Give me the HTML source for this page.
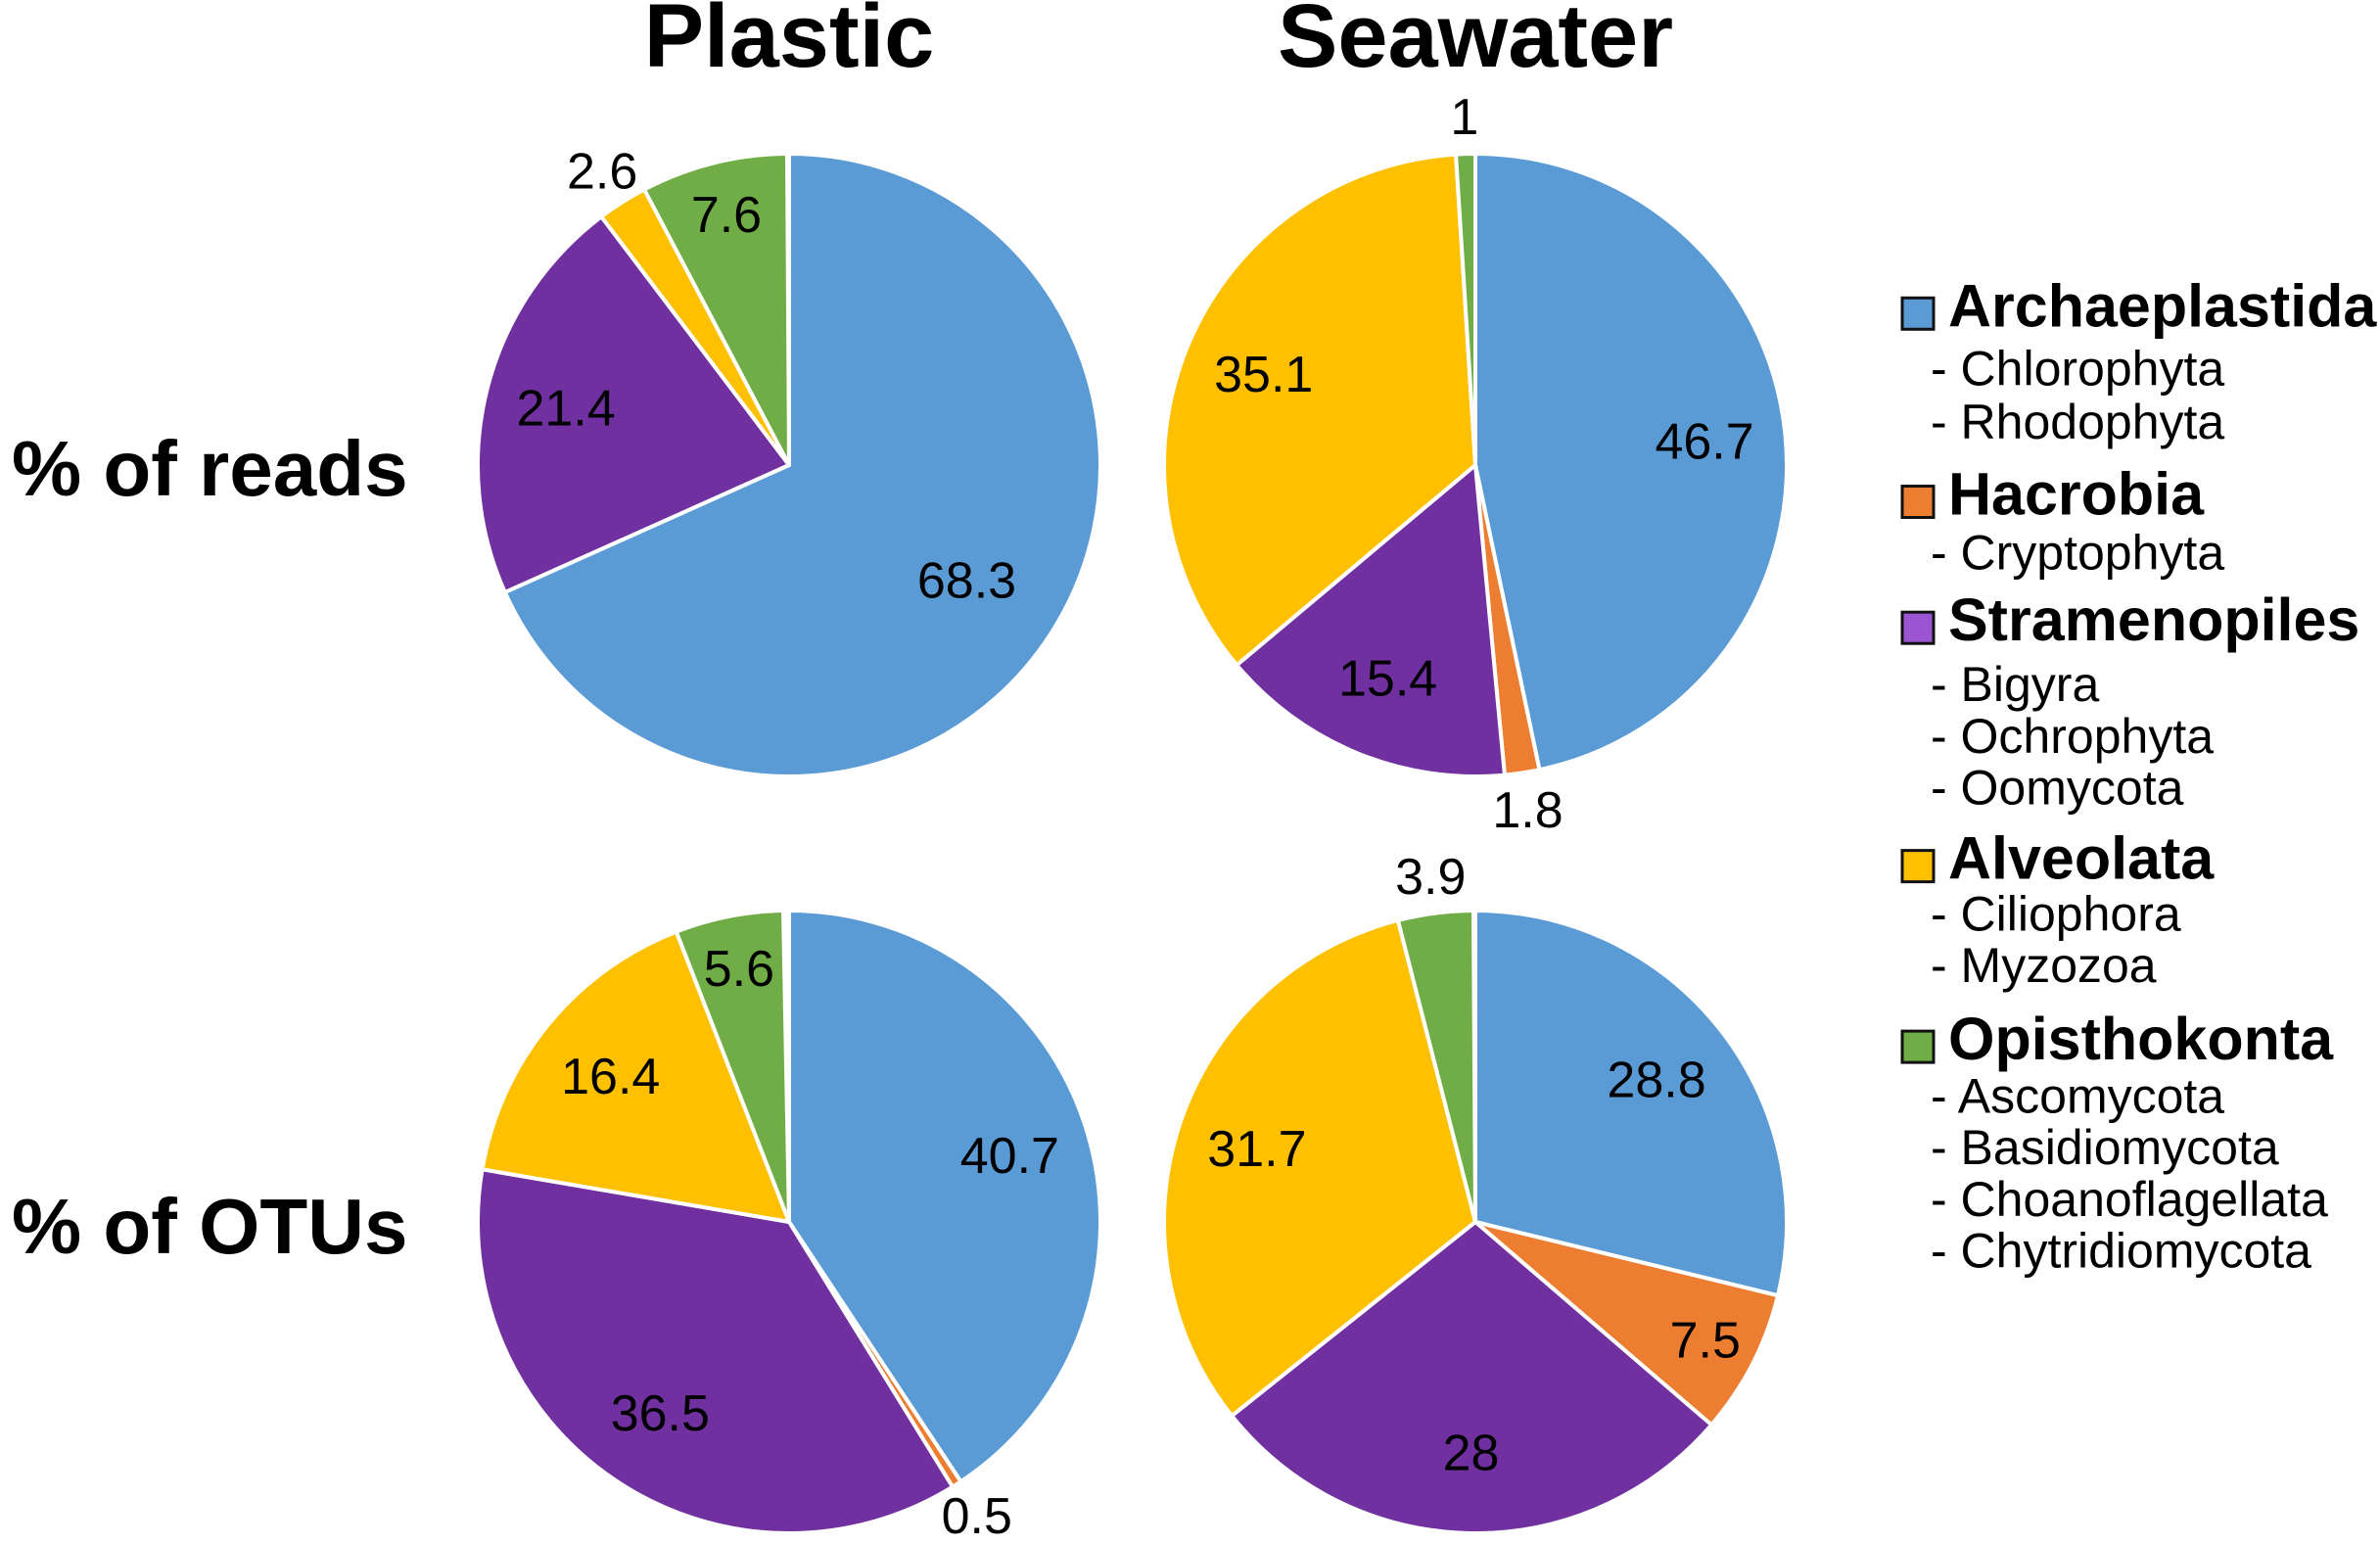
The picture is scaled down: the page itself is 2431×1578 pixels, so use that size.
<!DOCTYPE html>
<html><head><meta charset="utf-8"><style>
html,body{margin:0;padding:0;background:#fff;}
svg{display:block;font-family:"Liberation Sans",Arial,sans-serif;}
</style></head><body>
<svg id="chart" width="2431" height="1578" viewBox="0 0 2431 1578">
<text x="806" y="68" font-size="92" font-weight="bold" text-anchor="middle">Plastic</text>
<text x="1507" y="68" font-size="92" font-weight="bold" text-anchor="middle">Seawater</text>
<text x="12" y="506" font-size="80" font-weight="bold">% of reads</text>
<text x="12" y="1280" font-size="80" font-weight="bold">% of OTUs</text>
<g id="pies"></g>
<g id="legend"></g>
</svg>
<script>
const groups = ["Archaeplastida","Hacrobia","Stramenopiles","Alveolata","Opisthokonta"];
const colors = ["#5b9bd5","#ed7d31","#7030a0","#ffc000","#70ad47"];
const plasticReads = [68.3, 0, 21.4, 2.6, 7.6];
const seawaterReads = [46.7, 1.8, 15.4, 35.1, 1];
const plasticOtus = [40.7, 0.5, 36.5, 16.4, 5.6];
const seawaterOtus = [28.8, 7.5, 28, 31.7, 3.9];
const subgroups = [["Chlorophyta","Rhodophyta"],["Cryptophyta"],["Bigyra","Ochrophyta","Oomycota"],["Ciliophora","Myzozoa"],["Ascomycota","Basidiomycota","Choanoflagellata","Chytridiomycota"]];

const NS="http://www.w3.org/2000/svg";
const R=318;
const pies=[
 {name:"plastic-reads",vals:plasticReads,cx:806,cy:475},
 {name:"seawater-reads",vals:seawaterReads,cx:1507,cy:475},
 {name:"plastic-otus",vals:plasticOtus,cx:806,cy:1248},
 {name:"seawater-otus",vals:seawaterOtus,cx:1507,cy:1248}
];
const pg=document.getElementById('pies');
function pt(cx,cy,r,a){return [cx+r*Math.sin(a),cy-r*Math.cos(a)];}
pies.forEach(p=>{
  const g=document.createElementNS(NS,'g');
  
  
  pg.appendChild(g);
  let acc=0;
  p.vals.forEach((v,i)=>{
    if(v<=0) return;
    const a0=acc/100*2*Math.PI, a1=(acc+v)/100*2*Math.PI; acc+=v;
    const [x0,y0]=pt(p.cx,p.cy,R,a0),[x1,y1]=pt(p.cx,p.cy,R,a1);
    const large=(a1-a0)>Math.PI?1:0;
    const path=document.createElementNS(NS,'path');
    path.setAttribute('d',`M${p.cx},${p.cy} L${x0},${y0} A${R},${R} 0 ${large} 1 ${x1},${y1} Z`);
    path.setAttribute('fill',colors[i]);
    path.setAttribute('stroke','#fff');
    path.setAttribute('stroke-width','4');
    path.setAttribute('stroke-linejoin','round');
    
    
    g.appendChild(path);
    const am=(a0+a1)/2;
    const f=v<4?1.12:(v<8?0.83:(v>60?0.68:0.74));
    const [lx,ly]=pt(p.cx,p.cy,R*f,am);
    const t=document.createElementNS(NS,'text');
    t.setAttribute('x',lx);t.setAttribute('y',ly+18);
    t.setAttribute('font-size','52');t.setAttribute('text-anchor','middle');
    t.textContent=String(v);
    
    
    g.appendChild(t);
  });
});
const lg=document.getElementById('legend');
const dispY=[[204,243,278],[328,364],[411,451,485,519],[568,602,636],[687,722,756,790,824]];
groups.forEach((gname,i)=>{
  const by=dispY[i][0]*1.5504+17;
  const sq=document.createElementNS(NS,'rect');
  sq.setAttribute('x',1943);sq.setAttribute('y',by-29);
  sq.setAttribute('width',32);sq.setAttribute('height',32);
  sq.setAttribute('fill',i===2?'#9b55d3':colors[i]);
  sq.setAttribute('stroke','#111');sq.setAttribute('stroke-width','3');
  
  
  lg.appendChild(sq);
  const t=document.createElementNS(NS,'text');
  t.setAttribute('x',1990);t.setAttribute('y',by);
  t.setAttribute('font-size','61');t.setAttribute('font-weight','bold');
  t.textContent=gname;
  
  
  lg.appendChild(t);
  subgroups[i].forEach((s,j)=>{
    const st=document.createElementNS(NS,'text');
    st.setAttribute('x',1972);st.setAttribute('y',dispY[i][j+1]*1.5504+17);
    st.setAttribute('font-size','50');
    st.textContent='- '+s;
    
    
    lg.appendChild(st);
  });
});
</script>
</body></html>
